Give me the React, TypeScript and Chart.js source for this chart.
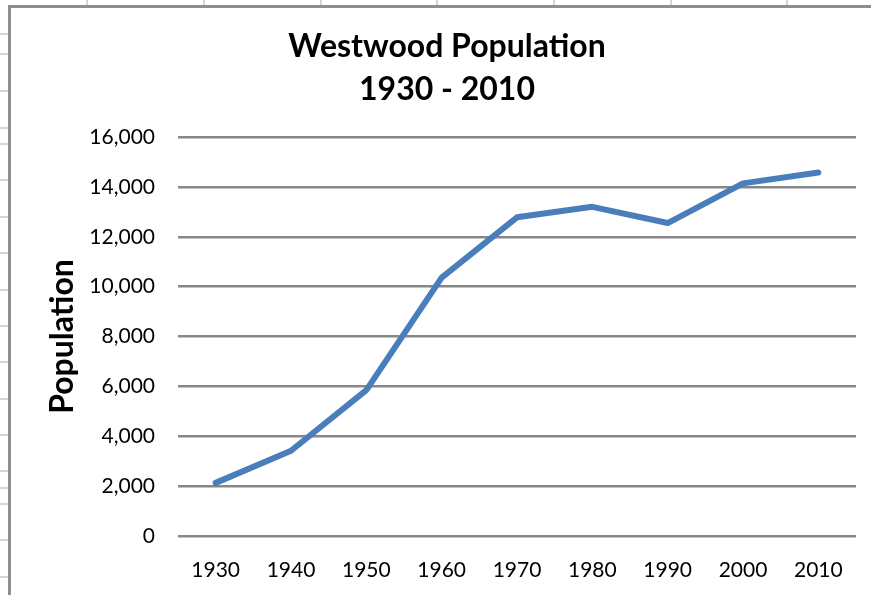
import React, { useEffect, useRef } from "react";
import { Chart, registerables } from "chart.js";

Chart.register(...registerables);

const years: string[] = ["1930", "1940", "1950", "1960", "1970", "1980", "1990", "2000", "2010"];
const population: number[] = [2130, 3420, 5850, 10360, 12780, 13200, 12550, 14140, 14580];
const titleLines: string[] = ["Westwood Population", "1930 - 2010"];
const yAxisTitle = "Population";
const yMin = 0;
const yMax = 16000;
const yStep = 2000;

// decorative spreadsheet grid behind the chart object
const sheetRowLines: number[] = [34, 54, 91, 128, 144, 180, 217, 253, 290, 326, 362, 399, 435, 471, 488, 504, 540, 577];
const sheetColLines: number[] = [87, 204, 321, 437, 554, 671, 787];

const FONT = "Lato, 'Open Sans', sans-serif";

export default function App() {
  const canvasRef = useRef<HTMLCanvasElement | null>(null);

  useEffect(() => {
    if (!canvasRef.current) return;
    const chart = new Chart(canvasRef.current, {
      type: "line",
      data: {
        labels: years,
        datasets: [
          {
            label: yAxisTitle,
            data: population,
            borderColor: "#4a7ebb",
            backgroundColor: "#4a7ebb",
            borderWidth: 6,
            borderCapStyle: "round",
            borderJoinStyle: "round",
            pointRadius: 0,
            tension: 0,
            fill: false,
          },
        ],
      },
      options: {
        responsive: false,
        animation: false,
        layout: { padding: { top: 0, left: 27, right: 27, bottom: 0 } },
        plugins: {
          legend: { display: false },
          tooltip: { enabled: false },
          title: {
            display: true,
            text: titleLines,
            color: "#000",
            font: { family: FONT, size: 32, weight: "bold", lineHeight: 43 / 32 },
            padding: { top: 17.5, bottom: 25.5 },
          },
        },
        scales: {
          x: {
            offset: true,
            grid: { display: false, drawTicks: false },
            border: { display: false },
            ticks: {
              color: "#000",
              font: { family: FONT, size: 21 },
              padding: 22,
              maxRotation: 0,
              autoSkip: false,
            },
            afterFit: (scale: any) => {
              scale.height = 72;
            },
          },
          y: {
            min: yMin,
            max: yMax,
            grid: { color: "#878787", lineWidth: 2.5, drawTicks: false },
            border: { display: false },
            ticks: {
              stepSize: yStep,
              color: "#000",
              font: { family: FONT, size: 21 },
              padding: 23,
              callback: (v: any) => Number(v).toLocaleString("en-US"),
            },
            title: {
              display: true,
              text: yAxisTitle,
              color: "#000",
              font: { family: FONT, size: 32, weight: "bold", lineHeight: 1.2 },
              padding: { top: 5.6, bottom: 0 },
            },
            afterFit: (scale: any) => {
              scale.width = 140;
            },
          },
        },
      },
    });
    return () => chart.destroy();
  }, []);

  return (
    <div style={{ position: "fixed", left: 0, top: 0, width: 871, height: 595, overflow: "hidden", background: "#fff" }}>
      {sheetRowLines.map((y) => (
        <div key={"r" + y} style={{ position: "absolute", left: 0, top: y - 1, width: 10, height: 2, background: "#cdd6e6" }} />
      ))}
      {sheetColLines.map((x) => (
        <div key={"c" + x} style={{ position: "absolute", left: x - 1, top: 0, width: 2, height: 7, background: "#cdd6e6" }} />
      ))}
      <div
        style={{
          position: "absolute",
          left: 8,
          top: 5,
          width: 872,
          height: 600,
          borderLeft: "3px solid #8e8e8e",
          borderTop: "3px solid #8e8e8e",
          background: "#fff",
        }}
      >
        <canvas ref={canvasRef} width={872} height={600} style={{ display: "block", width: 872, height: 600 }} />
      </div>
    </div>
  );
}
